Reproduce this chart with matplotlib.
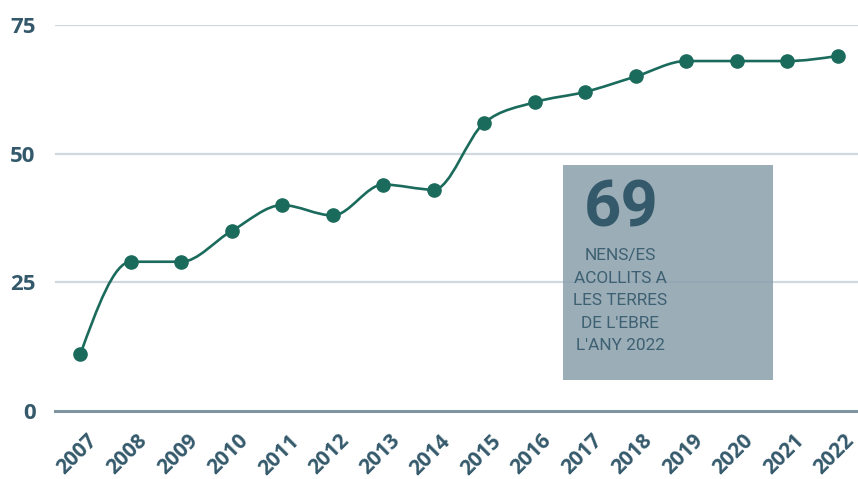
import matplotlib
matplotlib.use('Agg')
import matplotlib.pyplot as plt
import matplotlib.transforms as mtransforms
from matplotlib.path import Path
from matplotlib.patches import PathPatch, Rectangle
import numpy as np

# Data
years = ['2007', '2008', '2009', '2010', '2011', '2012', '2013', '2014',
         '2015', '2016', '2017', '2018', '2019', '2020', '2021', '2022']
children = [11, 29, 29, 35, 40, 38, 44, 43, 56, 60, 62, 65, 68, 68, 68, 69]
y_ticks = [0, 25, 50, 75]
box_number = '69'
box_text = "NENS/ES\nACOLLITS A\nLES TERRES\nDE L'EBRE\nL'ANY 2022"

line_color = '#1b6b5d'
text_color = '#34596b'


def monotone_path(x, y):
    # smooth monotone cubic (same idea as d3.curveMonotoneX) as bezier path
    x = np.asarray(x, float)
    y = np.asarray(y, float)
    n = len(x)
    h = np.diff(x)
    s = np.diff(y) / h
    t = np.zeros(n)
    for i in range(1, n - 1):
        p = (s[i - 1] * h[i] + s[i] * h[i - 1]) / (h[i - 1] + h[i])
        t[i] = (np.sign(s[i - 1]) + np.sign(s[i])) * min(abs(s[i - 1]), abs(s[i]), 0.5 * abs(p))
    t[0] = (3 * s[0] - t[1]) / 2
    t[-1] = (3 * s[-1] - t[-2]) / 2
    verts = [(x[0], y[0])]
    codes = [Path.MOVETO]
    for i in range(n - 1):
        dx = h[i] / 3
        verts += [(x[i] + dx, y[i] + dx * t[i]),
                  (x[i + 1] - dx, y[i + 1] - dx * t[i + 1]),
                  (x[i + 1], y[i + 1])]
        codes += [Path.CURVE4] * 3
    return Path(verts, codes)


fig = plt.figure(figsize=(8.58, 4.79), dpi=100)
ax = fig.add_axes([55 / 858, 68 / 479, 803 / 858, 386 / 479])

xs = np.arange(len(years))
ax.set_xlim(-0.5, 15.4)
ax.set_ylim(0, 75)

for v in y_ticks[1:]:
    ax.axhline(v, color='#cfd8dc', lw=1.6, zorder=1)
ax.axhline(0, color='#7f949e', lw=2.2, zorder=1, clip_on=False)

ax.add_patch(PathPatch(monotone_path(xs, children), facecolor='none',
                       edgecolor=line_color, lw=1.9, zorder=3, clip_on=False))
ax.plot(xs, children, 'o', color=line_color, ms=9.5, zorder=4, clip_on=False)

# summary box
ax.add_patch(Rectangle((9.56, 6.0), 4.16, 41.8, facecolor='#8a9fab',
                       alpha=0.85, edgecolor='none', zorder=5))
ax.text(10.71, 39.2, box_number, ha='center', va='center', fontsize=47,
        fontweight='bold', family='Roboto', color=text_color, zorder=6)
ax.text(10.69, 31.6, box_text, ha='center', va='top', fontsize=12.4,
        family='Roboto', color='#3d6072', linespacing=1.62, zorder=6)

for sp in ax.spines.values():
    sp.set_visible(False)

ax.set_yticks(y_ticks)
ax.set_yticklabels([str(v) for v in y_ticks])
ax.set_xticks(xs)
ax.set_xticklabels(years)
ax.tick_params(length=0)
ax.tick_params(axis='y', pad=14)
ax.tick_params(axis='x', pad=14)
for lab in ax.get_yticklabels():
    lab.set_fontfamily('Open Sans')
    lab.set_fontweight('bold')
    lab.set_fontsize(16)
    lab.set_color(text_color)
offset = mtransforms.ScaledTranslation(6 / 100, 0, fig.dpi_scale_trans)
for lab in ax.get_xticklabels():
    lab.set_fontfamily('Open Sans')
    lab.set_fontweight('bold')
    lab.set_fontsize(15)
    lab.set_color(text_color)
    lab.set_rotation(45)
    lab.set_ha('right')
    lab.set_va('top')
    lab.set_rotation_mode('anchor')
    lab.set_transform(lab.get_transform() + offset)

fig.savefig('out.png', dpi=100)
